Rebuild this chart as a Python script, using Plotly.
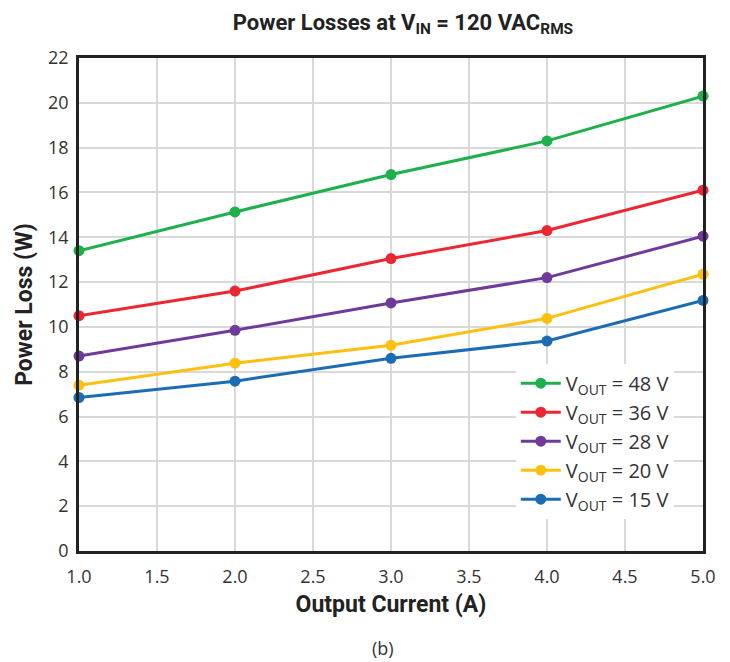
import plotly.graph_objects as go

current = [1.0, 2.0, 3.0, 4.0, 5.0]
series_names = ["V<sub>OUT</sub> = 48 V", "V<sub>OUT</sub> = 36 V", "V<sub>OUT</sub> = 28 V",
                "V<sub>OUT</sub> = 20 V", "V<sub>OUT</sub> = 15 V"]
loss_48 = [13.4, 15.13, 16.8, 18.3, 20.3]
loss_36 = [10.5, 11.6, 13.05, 14.3, 16.1]
loss_28 = [8.7, 9.85, 11.07, 12.2, 14.05]
loss_20 = [7.4, 8.38, 9.18, 10.38, 12.35]
loss_15 = [6.85, 7.58, 8.6, 9.37, 11.18]
colors = ["#1DB04B", "#EE2631", "#6E3B9A", "#FDBF10", "#1C6CB5"]
x_ticks = [1.0, 1.5, 2.0, 2.5, 3.0, 3.5, 4.0, 4.5, 5.0]
y_ticks = list(range(0, 23, 2))

fig = go.Figure()
for name, vals, c in zip(series_names, [loss_48, loss_36, loss_28, loss_20, loss_15], colors):
    fig.add_trace(go.Scatter(x=current, y=vals, name=name, mode="lines+markers",
                             line=dict(color=c, width=3), marker=dict(color=c, size=11),
                             cliponaxis=False))

font_main = "Open Sans, Noto Sans, sans-serif"
font_bold = "Roboto, sans-serif"

fig.update_layout(
    width=730, height=662,
    margin=dict(l=71, r=35, t=50, b=119, autoexpand=False),
    paper_bgcolor="white", plot_bgcolor="white",
    title=dict(text="<b>Power Losses at V<sub>IN</sub> = 120 VAC<sub>RMS</sub></b>",
               x=0.541, xanchor="center", y=0.979, yanchor="middle",
               font=dict(family=font_bold, size=22, color="#222")),
    xaxis=dict(range=[1.0, 5.0], tickvals=x_ticks, ticktext=[f"{v:.1f}" for v in x_ticks],
               showgrid=True, gridcolor="#D9D9D9", gridwidth=1.5,
               showline=True, linecolor="#222", linewidth=2.5, mirror=True,
               ticks="", zeroline=False, ticklabelstandoff=8,
               tickfont=dict(family=font_main, size=18, color="#333"),
               title=dict(text="<b>Output Current (A)</b>",
                          font=dict(family=font_bold, size=23, color="#222"), standoff=9)),
    yaxis=dict(range=[0, 22], tickvals=y_ticks,
               showgrid=True, gridcolor="#D9D9D9", gridwidth=1.5,
               showline=True, linecolor="#222", linewidth=2.5, mirror=True,
               ticks="", zeroline=False, ticklabelstandoff=4,
               tickfont=dict(family=font_main, size=18, color="#333"),
               title=dict(text="<b>Power Loss (W)</b>",
                          font=dict(family=font_bold, size=23, color="#222"), standoff=10)),
    legend=dict(x=0.70, y=0.38, xanchor="left", yanchor="top",
                bgcolor="white", borderwidth=0,
                font=dict(family=font_main, size=20, color="#333"),
                itemwidth=40, tracegroupgap=0),
    showlegend=True,
)
fig.add_annotation(text="(b)", xref="paper", yref="paper", x=0.487, y=-0.197,
                   yanchor="middle", showarrow=False,
                   font=dict(family=font_main, size=18, color="#333"))

fig.write_html("out.html")
